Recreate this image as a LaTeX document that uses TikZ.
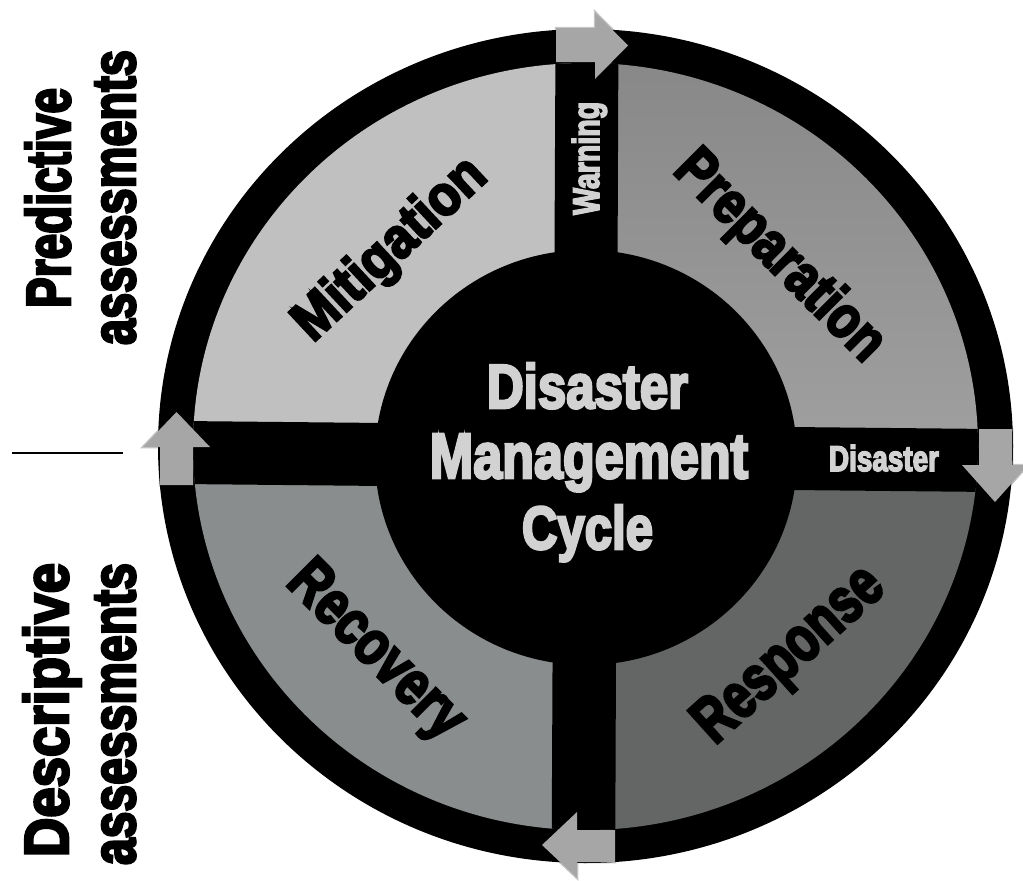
\documentclass[tikz,border=0pt]{standalone}
\usepackage{graphicx}
\usepackage{fontspec}
\newfontfamily\impactfont{Liberation Sans}[BoldFeatures={FakeBold=4.5}]
\newcommand\fitlbl[3]{\resizebox{#1pt}{#2pt}{\impactfont\bfseries #3}}
\definecolor{mitig}{HTML}{C0C0C0}
\definecolor{prepA}{HTML}{888888}
\definecolor{prepB}{HTML}{A0A0A0}
\definecolor{recov}{HTML}{898D8D}
\definecolor{resp}{HTML}{646665}
\definecolor{arrowgray}{HTML}{A6A6A6}
\definecolor{lightt}{HTML}{D2D2D2}
\begin{document}
\begin{tikzpicture}[x=1pt,y=-1pt,
  lbl/.style={inner sep=0pt, anchor=base},
  arrowshape/.style={fill=arrowgray, preaction={draw=black, line width=2.5pt, opacity=0.22, line join=miter}}]
\useasboundingbox (0,0) rectangle (1023,881);
% outer disc
\fill[black] (585.5,446) ellipse [x radius=427.5pt, y radius=417pt];
\begin{scope}
  \clip (585.5,446.5) ellipse [x radius=392.5pt, y radius=383.5pt];
  \fill[mitig] (0,0) rectangle (586,457);
  \shade[top color=prepA, bottom color=prepB] (586,60) rectangle (1000,457);
  \fill[recov] (0,457) rectangle (586,881);
  \fill[resp] (586,457) rectangle (1023,881);
  % bands
  \fill[black] (555.7,0) -- (618.6,0) -- (615.1,881) -- (551.5,881) -- cycle;
  \fill[black] (0,419.2) -- (1023,429.3) -- (1023,492.3) -- (0,482.2) -- cycle;
\end{scope}
% centre disc
\fill[black] (586,457.5) ellipse [x radius=211pt, y radius=207.5pt];
% arrows
\fill[arrowshape] (556,28) -- (595,28) -- (595,12) -- (628,45.5) -- (595,79) -- (595,62) -- (556,62) -- cycle;
\fill[arrowshape] (979,429) -- (1012,429) -- (1012,465) -- (1028,465) -- (995,502) -- (962,465) -- (979,465) -- cycle;
\fill[arrowshape] (615,830) -- (577,830) -- (577,812) -- (542,845) -- (577,878) -- (577,862) -- (615,862) -- cycle;
\fill[arrowshape] (160,485) -- (160,447) -- (143,447) -- (176.5,412) -- (210,447) -- (193,447) -- (193,485) -- cycle;
% separator line
\coordinate (sepL) at (12,453);
\coordinate (sepR) at (123,453);
\draw[line width=2.5pt] (sepL) -- (sepR);
% centre text
\node[lbl, text=lightt] (c1) at (587.5,408) {\fitlbl{201}{45}{Disaster}};
\node[lbl, text=lightt] (c2) at (589,478) {\fitlbl{318}{44}{Management}};
\node[lbl, text=lightt] (c3) at (587.5,549) {\fitlbl{131}{44}{Cycle}};
% band labels
\node[lbl, rotate=90, text=lightt] (warn) at (599,158.4) {\fitlbl{113}{27}{Warning}};
\node[lbl, text=lightt] (dis) at (884,471) {\fitlbl{110}{26}{Disaster}};
% quadrant labels
\node[lbl, rotate=43] (mit) at (401,261) {\fitlbl{241}{41}{Mitigation}};
\node[lbl, rotate=-45] (prep) at (768,268) {\fitlbl{272}{43}{Preparation}};
\node[lbl, rotate=42] (resp) at (801,668) {\fitlbl{232}{44}{Response}};
\node[lbl, rotate=-45] (rec) at (364,663) {\fitlbl{224}{43}{Recovery}};
% side labels
\node[lbl, rotate=90] (pred) at (70,198) {\fitlbl{220}{45}{Predictive}};
\node[lbl, rotate=90] (as1) at (135,197.5) {\fitlbl{295}{40}{assessments}};
\node[lbl, rotate=90] (desc) at (68,710) {\fitlbl{294}{45}{Descriptive}};
\node[lbl, rotate=90] (as2) at (135,714) {\fitlbl{302}{40}{assessments}};
\end{tikzpicture}
\end{document}
